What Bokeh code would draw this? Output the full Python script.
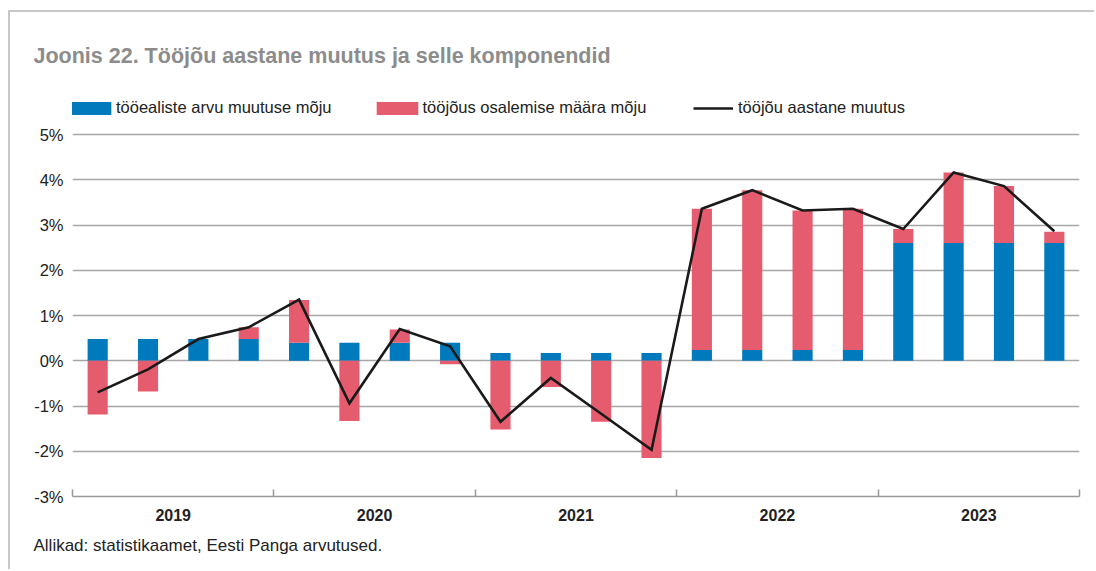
from bokeh.plotting import figure
from bokeh.models import (FixedTicker, Legend, LegendItem, Title, ColumnDataSource,
                          PrintfTickFormatter, Range1d)
from bokeh.embed import file_html
from bokeh.resources import INLINE

# ---- data ----
years = ["2019", "2020", "2021", "2022", "2023"]
quarters_per_year = 4
employed_effect = [0.48, 0.48, 0.48, 0.48,
                   0.40, 0.40, 0.40, 0.40,
                   0.17, 0.17, 0.17, 0.17,
                   0.24, 0.24, 0.24, 0.24,
                   2.60, 2.60, 2.60, 2.60]
participation_effect = [-1.19, -0.68, 0.00, 0.26,
                        0.94, -1.33, 0.29, -0.08,
                        -1.52, -0.58, -1.35, -2.15,
                        3.12, 3.53, 3.08, 3.12,
                        0.31, 1.56, 1.26, 0.25]
total_change = [-0.70, -0.19, 0.48, 0.74,
                1.35, -0.94, 0.70, 0.32,
                -1.35, -0.38, -1.17, -1.97,
                3.36, 3.77, 3.32, 3.36,
                2.91, 4.16, 3.86, 2.86]
y_ticks = [-3, -2, -1, 0, 1, 2, 3, 4, 5]

legend_labels = ["tööealiste arvu muutuse mõju",
                 "tööjõus osalemise määra mõju",
                 "tööjõu aastane muutus"]
title_text = "Joonis 22. Tööjõu aastane muutus ja selle komponendid"
source_text = "Allikad: statistikaamet, Eesti Panga arvutused."

BLUE = "#0079BD"
RED = "#E65C6F"
FONT = "Liberation Sans"

n = len(total_change)
xs = [i + 0.5 for i in range(n)]

blue_bottom = [0.0] * n
blue_top = employed_effect
red_bottom = []
red_top = []
for b, r in zip(employed_effect, participation_effect):
    if r >= 0:
        base = b if b > 0 else 0.0
    else:
        base = b if b < 0 else 0.0
    red_bottom.append(base)
    red_top.append(base + r)

src = ColumnDataSource(dict(x=xs, bb=blue_bottom, bt=blue_top, rb=red_bottom,
                            rt=red_top, tot=total_change))

# frame spans from y=85 (room for legend) to y=496 (-3 %) -> 45.25 px per %
y_top = 5 + (134 - 85) / 45.25

p = figure(width=1086, height=559, output_backend="svg", toolbar_location=None,
           x_range=Range1d(0, n), y_range=Range1d(-3, y_top),
           min_border_left=62, min_border_right=17, min_border_top=73,
           min_border_bottom=75)
p.outline_line_color = None
p.background_fill_color = "white"
p.border_fill_color = "white"
p.styles = {"margin-left": "8px", "margin-top": "10px",
            "border-top": "2px solid #c8c8c8", "border-left": "2px solid #c8c8c8"}

r_blue = p.vbar(x="x", bottom="bb", top="bt", width=0.4, source=src,
                fill_color=BLUE, line_color=None)
r_red = p.vbar(x="x", bottom="rb", top="rt", width=0.4, source=src,
               fill_color=RED, line_color=None)
r_line = p.line(x="x", y="tot", source=src, line_color="#1a1a1a", line_width=2.6,
                line_join="miter")

# y axis
p.yaxis.ticker = FixedTicker(ticks=y_ticks)
p.yaxis.formatter = PrintfTickFormatter(format="%d%%")
p.yaxis.axis_line_color = None
p.yaxis.major_tick_line_color = None
p.yaxis.minor_tick_line_color = None
p.yaxis.major_tick_out = 0
p.yaxis.major_tick_in = 0
p.yaxis.minor_tick_out = 0
p.yaxis.minor_tick_in = 0
p.yaxis.major_label_standoff = 9
p.yaxis.major_label_text_font = FONT
p.yaxis.major_label_text_font_size = "16.5px"
p.yaxis.major_label_text_color = "#222222"

p.ygrid.ticker = FixedTicker(ticks=y_ticks)
p.ygrid.grid_line_color = "#a6a6a6"
p.ygrid.grid_line_width = 1.5
p.xgrid.grid_line_color = None

# x axis: year labels at centres, boundary ticks as minor ticks
centres = [quarters_per_year * i + quarters_per_year / 2 for i in range(len(years))]
bounds = [quarters_per_year * i for i in range(len(years) + 1)]
p.xaxis.ticker = FixedTicker(ticks=centres, minor_ticks=bounds)
p.xaxis.major_label_overrides = {c: y for c, y in zip(centres, years)}
p.xaxis.major_tick_in = 0
p.xaxis.major_tick_out = 0
p.xaxis.minor_tick_in = 7
p.xaxis.minor_tick_out = 0
p.xaxis.minor_tick_line_color = "#999999"
p.xaxis.minor_tick_line_width = 1.5
p.xaxis.axis_line_color = "#999999"
p.xaxis.axis_line_width = 1.5
p.xaxis.major_label_standoff = 12
p.xaxis.major_label_text_font = FONT
p.xaxis.major_label_text_font_style = "bold"
p.xaxis.major_label_text_font_size = "16px"
p.xaxis.major_label_text_color = "#222222"

# legends (inside the upper, empty part of the frame)
common = dict(orientation="horizontal", padding=0, margin=0, border_line_color=None,
              background_fill_alpha=0, label_text_font=FONT,
              label_text_font_size="16.5px", label_text_color="#222222",
              label_height=18)
legend_bars = Legend(items=[LegendItem(label=legend_labels[0], renderers=[r_blue]),
                            LegendItem(label=legend_labels[1], renderers=[r_red])],
                     location=(-8, 379), glyph_width=52, glyph_height=16,
                     label_standoff=0, spacing=39, **common)
legend_line = Legend(items=[LegendItem(label=legend_labels[2], renderers=[r_line])],
                     location=(621, 379), glyph_width=40, glyph_height=16,
                     label_standoff=5, spacing=0, **common)
p.add_layout(legend_bars, "center")
p.add_layout(legend_line, "center")

# title and source
p.add_layout(Title(text=title_text, align="left", offset=-39, standoff=35,
                   text_font=FONT, text_font_style="bold", text_font_size="21.5px",
                   text_color="#8c8c8c"), "above")
p.add_layout(Title(text=source_text, align="left", offset=-39, standoff=21,
                   text_font=FONT, text_font_style="normal", text_font_size="17px",
                   text_color="#222222"), "below")

open("out.html", "w").write(file_html(p, INLINE))
